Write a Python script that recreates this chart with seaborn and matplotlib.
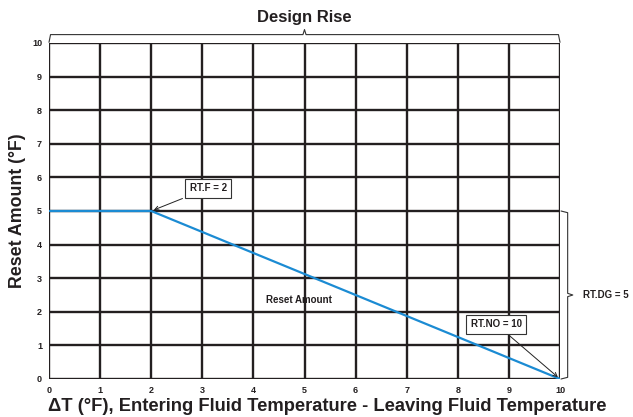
import matplotlib
matplotlib.use("Agg")
import matplotlib.pyplot as plt
import seaborn as sns
import pandas as pd

# reset curve: delta T vs reset amount
delta_t = [0, 2, 10]
reset_amt = [5, 5, 0]
ticks = list(range(0, 11))

sns.set_style("white")
plt.rcParams['font.family'] = ['Liberation Sans', 'DejaVu Sans']
ink = '#231f20'

df = pd.DataFrame({'dT': delta_t, 'Reset': reset_amt})

fig = plt.figure(figsize=(6.33, 4.17), dpi=100)
ax = fig.add_axes([49 / 633, 1 - 379 / 417, 511 / 633, 336 / 417])

# grid
for t in ticks:
    ax.axvline(t, color=ink, lw=1.7, zorder=1)
    ax.axhline(t, color=ink, lw=1.7, zorder=1)

sns.lineplot(data=df, x='dT', y='Reset', ax=ax, color='#1b8bd3', lw=1.6, zorder=3)

ax.set_xlim(0, 10)
ax.set_ylim(0, 10)
ax.set_xticks(ticks)
ax.set_yticks(ticks)
ax.tick_params(length=0, labelsize=6.5, pad=5, colors=ink)
for lab in ax.get_xticklabels() + ax.get_yticklabels():
    lab.set_fontweight('bold')
for s in ax.spines.values():
    s.set_visible(False)

ax.set_xlabel("ΔT (°F), Entering Fluid Temperature - Leaving Fluid Temperature",
              fontsize=13.2, fontweight='bold', labelpad=0, color=ink)
ax.xaxis.set_label_coords(0.545, -0.056)
ax.set_ylabel("Reset Amount (°F)", fontsize=12.8, fontweight='bold', labelpad=4, color=ink)

# top brace "Design Rise"
bk = dict(color='#333333', lw=0.8, clip_on=False)
yb = 10.25
ax.plot([0, 0.03, 4.97, 5.0, 5.03, 9.97, 10], [10.02, yb, yb, yb + 0.15, yb, yb, 10.02], **bk)
ax.text(5, 10.75, "Design Rise", ha='center', va='center', fontsize=12,
        fontweight='bold', color=ink)

# right brace "RT.DG = 5"
xb = 10.15
ax.plot([10.02, xb, xb, xb + 0.1, xb, xb, 10.02], [5, 4.95, 2.55, 2.5, 2.45, 0.05, 0], **bk)
ax.text(10.45, 2.5, "RT.DG = 5", ha='left', va='center', fontsize=7,
        fontweight='bold', color=ink)

box = dict(boxstyle='square,pad=0.45', fc='white', ec='#333333', lw=0.8)
arr = dict(arrowstyle='->', color='#222222', lw=0.7)
ax.annotate("RT.F = 2", xy=(2, 5), xytext=(3.12, 5.68), ha='center', va='center',
            fontsize=7, fontweight='bold', bbox=box, arrowprops=arr, zorder=5, color=ink)
ax.annotate("RT.NO = 10", xy=(10, 0), xytext=(8.75, 1.63), ha='center', va='center',
            fontsize=7, fontweight='bold', bbox=box, arrowprops=arr, zorder=5, color=ink)
ax.text(4.9, 2.35, "Reset Amount", ha='center', va='center', fontsize=7,
        fontweight='bold', zorder=5, color=ink)

fig.savefig("out.png", dpi=100)
